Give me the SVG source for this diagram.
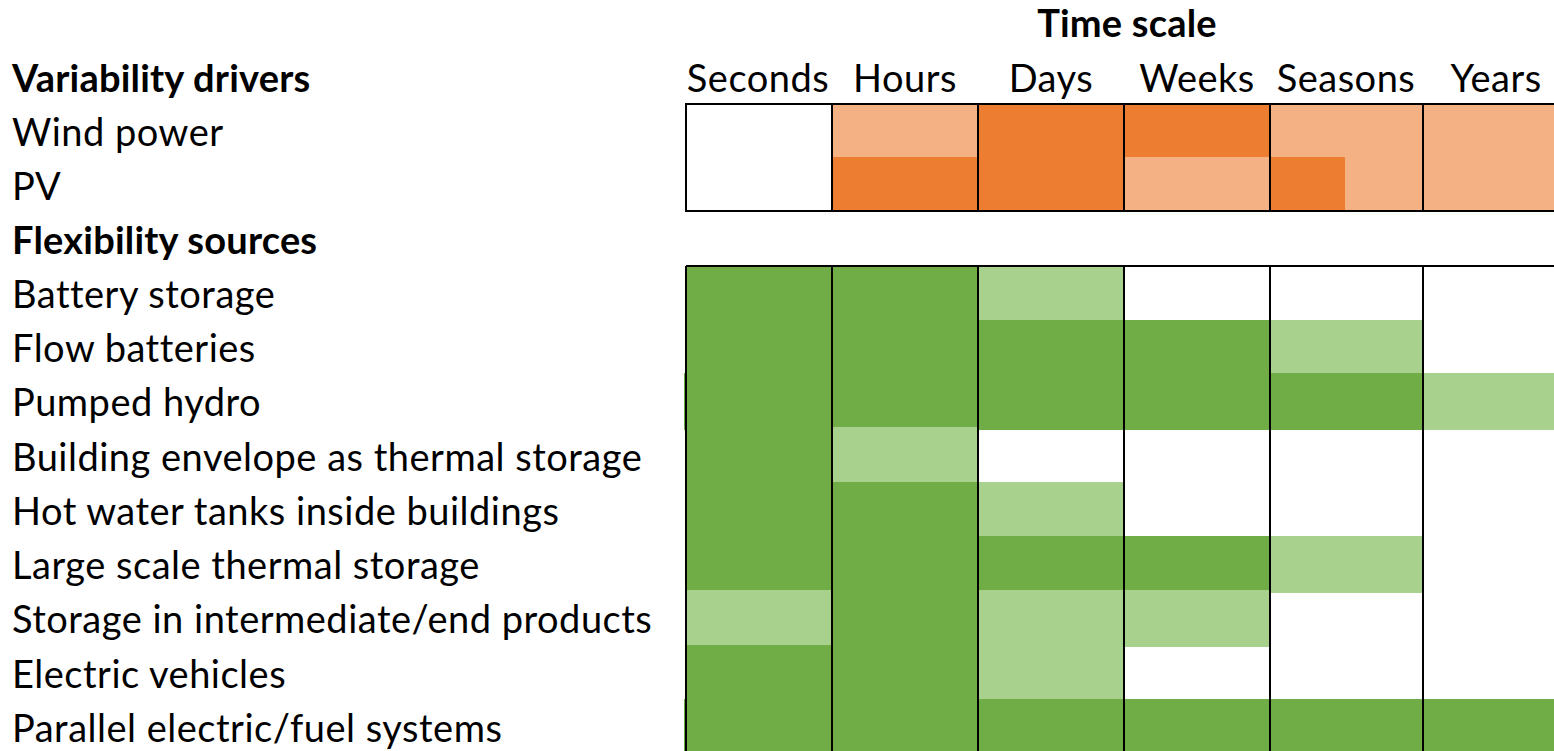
<svg xmlns="http://www.w3.org/2000/svg" width="1554" height="751" viewBox="0 0 1554 751">
  <style>
    text { font-family: Lato, "Noto Sans", "DejaVu Sans", sans-serif; font-size: 38px; letter-spacing: 0.5px; fill: #000; }
    .b { font-weight: bold; letter-spacing: 0.2px; }
    .hdr { text-anchor: middle; }
    .dg { fill: #70AD47; }
    .lg { fill: #A9D18E; }
    .do { fill: #ED7D31; }
    .lo { fill: #F4B183; }
    .grid { stroke: #000; stroke-width: 2; fill: none; }
  </style>

  <!-- headings -->
  <g id="time-scale">
    <text class="b hdr" x="1127" y="37">Time scale</text>
    <text class="hdr" x="758" y="92">Seconds</text>
    <text class="hdr" x="905" y="92">Hours</text>
    <text class="hdr" x="1051" y="92">Days</text>
    <text class="hdr" x="1197" y="92">Weeks</text>
    <text class="hdr" x="1346" y="92">Seasons</text>
    <text class="hdr" x="1496" y="92">Years</text>
  </g>

  <!-- variability drivers -->
  <g id="variability-drivers">
    <text class="b" x="12" y="92">Variability drivers</text>
  </g>
  <g id="wind-power">
    <text x="12" y="146">Wind power</text>
    <rect class="lo" x="832" y="104" width="146" height="53"/>
    <rect class="do" x="978" y="104" width="292" height="53"/>
    <rect class="lo" x="1270" y="104" width="284" height="53"/>
  </g>
  <g id="pv">
    <text x="12" y="200">PV</text>
    <rect class="do" x="832" y="157" width="292" height="54"/>
    <rect class="lo" x="1124" y="157" width="146" height="54"/>
    <rect class="do" x="1270" y="157" width="75" height="54"/>
    <rect class="lo" x="1345" y="157" width="209" height="54"/>
  </g>

  <!-- flexibility sources -->
  <g id="flexibility-sources">
    <text class="b" x="12" y="254">Flexibility sources</text>
  </g>
  <g id="battery-storage">
    <text x="12" y="308">Battery storage</text>
    <rect class="dg" x="686" y="266" width="292" height="54"/>
    <rect class="lg" x="978" y="266" width="146" height="54"/>
  </g>
  <g id="flow-batteries">
    <text x="12" y="362">Flow batteries</text>
    <rect class="dg" x="686" y="320" width="584" height="53"/>
    <rect class="lg" x="1270" y="320" width="153" height="53"/>
  </g>
  <g id="pumped-hydro">
    <text x="12" y="416">Pumped hydro</text>
    <rect class="dg" x="684" y="373" width="739" height="57"/>
    <rect class="lg" x="1423" y="373" width="131" height="57"/>
  </g>
  <g id="building-envelope">
    <text x="12" y="471">Building envelope as thermal storage</text>
    <rect class="dg" x="686" y="430" width="146" height="52"/>
    <rect class="lg" x="832" y="427" width="146" height="55"/>
  </g>
  <g id="hot-water-tanks">
    <text x="12" y="525">Hot water tanks inside buildings</text>
    <rect class="dg" x="686" y="482" width="292" height="54"/>
    <rect class="lg" x="978" y="482" width="146" height="54"/>
  </g>
  <g id="large-scale-thermal">
    <text x="12" y="579">Large scale thermal storage</text>
    <rect class="dg" x="686" y="536" width="584" height="54"/>
    <rect class="lg" x="1270" y="536" width="153" height="57"/>
  </g>
  <g id="intermediate-products">
    <text x="12" y="633">Storage in intermediate/end products</text>
    <rect class="lg" x="686" y="590" width="146" height="55"/>
    <rect class="dg" x="832" y="590" width="146" height="55"/>
    <rect class="lg" x="978" y="590" width="146" height="55"/>
    <rect class="lg" x="1124" y="590" width="146" height="57"/>
  </g>
  <g id="electric-vehicles">
    <text x="12" y="688">Electric vehicles</text>
    <rect class="dg" x="686" y="645" width="292" height="54"/>
    <rect class="lg" x="978" y="645" width="146" height="54"/>
  </g>
  <g id="parallel-systems">
    <text x="12" y="742">Parallel electric/fuel systems</text>
    <rect class="dg" x="684" y="699" width="870" height="52"/>
  </g>

  <!-- table rules -->
  <g id="connectors">
    <rect class="grid" x="686" y="104" width="880" height="107"/>
    <path class="grid" d="M832 104V211M978 104V211M1124 104V211M1270 104V211M1423 104V211"/>
    <path class="grid" d="M686 266H1554M686 266V751M832 266V751M978 266V751M1124 266V751M1270 266V751M1423 266V751"/>
  </g>
</svg>
